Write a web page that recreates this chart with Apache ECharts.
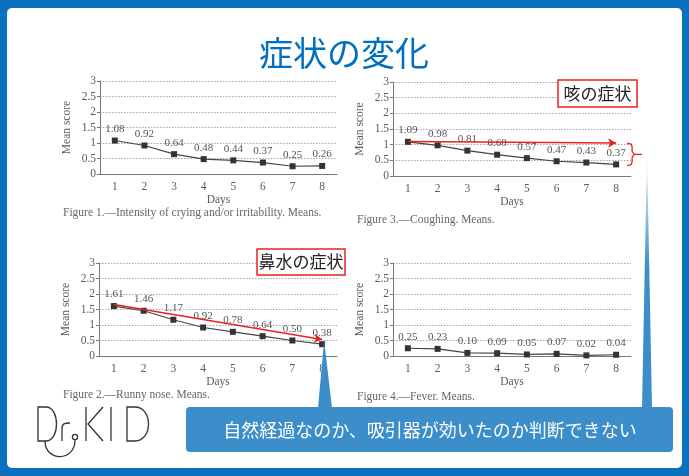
<!DOCTYPE html>
<html><head><meta charset="utf-8">
<script src="https://cdn.jsdelivr.net/npm/echarts@6/dist/echarts.min.js"></script>
<style>html,body{margin:0;padding:0;background:#0a71bf;} #c{width:689px;height:476px;}</style>
</head><body><div id="c"></div>
<script>
const days = ['1','2','3','4','5','6','7','8'];
const cryingScores   = [1.08, 0.92, 0.64, 0.48, 0.44, 0.37, 0.25, 0.26];
const coughingScores = [1.09, 0.98, 0.81, 0.68, 0.57, 0.47, 0.43, 0.37];
const runnyScores    = [1.61, 1.46, 1.17, 0.92, 0.78, 0.64, 0.50, 0.38];
const feverScores    = [0.25, 0.23, 0.10, 0.09, 0.05, 0.07, 0.02, 0.04];
const captions = [
  'Figure 1.\u2014Intensity of crying and/or irritability. Means.',
  'Figure 3.\u2014Coughing. Means.',
  'Figure 2.\u2014Runny nose. Means.',
  'Figure 4.\u2014Fever. Means.'
];
const titleText = '症状の変化';
const coughTag = '咳の症状';
const noseTag = '鼻水の症状';
const calloutText = '自然経過なのか、吸引器が効いたのか判断できない';
// red trend arrows [start value at day 1, end value at day 8]
const coughArrow = [1.10, 1.05];
const noseArrow = [1.66, 0.53];
const coughBrace = [1.05, 0.33];

const SERIF = '"Liberation Serif", "DejaVu Serif", serif';
const JP = '"Noto Sans CJK JP", sans-serif';
const GRAY = '#5a5a5a';

const grids = [
  {left: 100, top: 81, width: 237, height: 93},
  {left: 393, top: 82, width: 238, height: 94},
  {left: 99, top: 263, width: 238, height: 93},
  {left: 393, top: 263, width: 238, height: 93}
];
const seriesData = [cryingScores, coughingScores, runnyScores, feverScores];

const xAxes = grids.map((g, i) => ({
  type: 'category', gridIndex: i, data: days, boundaryGap: true,
  name: 'Days', nameLocation: 'middle', nameGap: 19,
  nameTextStyle: {fontFamily: SERIF, fontSize: 11.5, color: GRAY},
  axisLine: {lineStyle: {color: '#777', width: 1}},
  axisTick: {inside: true, length: 3, lineStyle: {color: '#777'}},
  axisLabel: {fontFamily: SERIF, fontSize: 11.5, color: GRAY, margin: 7}
}));
const yAxes = grids.map((g, i) => ({
  type: 'value', gridIndex: i, min: 0, max: 3, interval: 0.5,
  name: 'Mean score', nameLocation: 'middle', nameGap: 27, nameRotate: 90,
  nameTextStyle: {fontFamily: SERIF, fontSize: 11.5, color: GRAY},
  axisLine: {show: true, lineStyle: {color: '#777', width: 1}},
  axisTick: {show: true, length: 3, lineStyle: {color: '#777'}},
  axisLabel: {fontFamily: SERIF, fontSize: 11.5, color: GRAY, margin: 4},
  splitLine: {show: true, lineStyle: {color: '#a5a5a5', type: [1.5, 1.5], width: 1}}
}));
const arrowLine = (a) => ({
  silent: true, symbol: ['none', 'arrow'], symbolSize: [7, 8],
  lineStyle: {color: '#e8231e', width: 1.5, type: 'solid'},
  label: {show: false},
  data: [[{coord: [days[0], a[0]]}, {coord: [days[days.length - 1], a[1]]}]]
});
const series = seriesData.map((d, i) => {
  const s = {
    type: 'line', xAxisIndex: i, yAxisIndex: i, data: d,
    symbol: 'rect', symbolSize: 6,
    itemStyle: {color: '#333'},
    lineStyle: {color: '#444', width: 1.2},
    label: {show: true, position: 'top', distance: 3, fontFamily: SERIF, fontSize: 11, color: '#555',
      formatter: p => p.value.toFixed(2)}
  };
  if (i === 1) s.markLine = arrowLine(coughArrow);
  if (i === 2) s.markLine = arrowLine(noseArrow);
  return s;
});

const chart = echarts.init(document.getElementById('c'), null, {renderer: 'canvas'});
chart.setOption({
  animation: false,
  backgroundColor: '#0a71bf',
  grid: grids,
  xAxis: xAxes,
  yAxis: yAxes,
  series: series
});

const bTop = chart.convertToPixel({gridIndex: 1}, [days[7], coughBrace[0]]);
const bBot = chart.convertToPixel({gridIndex: 1}, [days[7], coughBrace[1]]);
const noseEnd = chart.convertToPixel({gridIndex: 2}, [days[7], noseArrow[1]]);
const bx = bTop[0] + 16;
const bMid = (bTop[1] + bBot[1]) / 2;
const RED = '#e8231e';
const BLUE = '#3b8ec9';
const ink = {stroke: '#333', lineWidth: 1.3, fill: null};

const capPos = [[63, 213], [357, 220], [63, 395], [357, 397]];
const graphics = [
  {type: 'rect', z: -100, shape: {x: 7, y: 8, width: 675, height: 460, r: 5}, style: {fill: '#fff'}},
  {type: 'text', z: 50, x: 344, y: 53, style: {text: titleText, font: '34px ' + JP, fill: '#0070c0', textAlign: 'center', textVerticalAlign: 'middle'}},
];
captions.forEach((c, i) => graphics.push({type: 'text', z: 50, x: capPos[i][0], y: capPos[i][1],
  style: {text: c, font: '11.5px ' + SERIF, fill: '#666', textAlign: 'left', textVerticalAlign: 'middle'}}));
// tag boxes
graphics.push(
  {type: 'rect', z: 50, shape: {x: 558, y: 80, width: 79, height: 27}, style: {fill: '#fff', stroke: RED, lineWidth: 1.5}},
  {type: 'text', z: 51, x: 597.5, y: 94, style: {text: coughTag, font: '17px ' + JP, fill: '#222', textAlign: 'center', textVerticalAlign: 'middle'}},
  {type: 'rect', z: 50, shape: {x: 257, y: 249, width: 88, height: 26}, style: {fill: '#fff', stroke: RED, lineWidth: 1.5}},
  {type: 'text', z: 51, x: 301, y: 262, style: {text: noseTag, font: '17px ' + JP, fill: '#222', textAlign: 'center', textVerticalAlign: 'middle'}}
);
// brace
graphics.push(
  {type: 'polyline', z: 50, shape: {points: [[bx - 5, bTop[1]], [bx - 1, bTop[1] + 1], [bx, bTop[1] + 4], [bx, bMid - 3], [bx + 2, bMid], [bx, bMid + 3], [bx, bBot[1] - 4], [bx - 1, bBot[1] - 1], [bx - 5, bBot[1]]]}, style: {stroke: RED, lineWidth: 1.3, fill: null}},
  {type: 'line', z: 50, shape: {x1: bx + 2, y1: bMid, x2: bx + 10, y2: bMid}, style: {stroke: RED, lineWidth: 1.3}}
);
// pointers + callout
graphics.push(
  {type: 'polygon', z: 60, shape: {points: [[318, 408], [332, 408], [noseEnd[0] + 2, noseEnd[1] + 1]]}, style: {fill: BLUE}},
  {type: 'polygon', z: 60, shape: {points: [[642, 408], [652, 408], [647, 152]]},
    style: {fill: new echarts.graphic.LinearGradient(0, 0, 0, 1, [{offset: 0, color: '#ffffff'}, {offset: 0.45, color: BLUE}, {offset: 1, color: BLUE}])}},
  {type: 'rect', z: 61, shape: {x: 186, y: 407, width: 487, height: 45, r: 4}, style: {fill: BLUE}},
  {type: 'text', z: 62, x: 430, y: 430, style: {text: calloutText, font: '18px ' + JP, fill: '#fff', textAlign: 'center', textVerticalAlign: 'middle'}}
);
// logo Dr.KID
graphics.push(
  {type: 'polyline', z: 50, shape: {points: [[46, 407], [38, 407], [38, 441], [46, 441]]}, style: ink},
  {type: 'bezierCurve', z: 50, shape: {x1: 46, y1: 407, cpx1: 60, cpy1: 407, cpx2: 60, cpy2: 441, x2: 46, y2: 441}, style: ink},
  {type: 'bezierCurve', z: 50, shape: {x1: 45, y1: 441, cpx1: 45, cpy1: 462, cpx2: 75, cpy2: 462, x2: 75, y2: 440}, style: ink},
  {type: 'circle', z: 50, shape: {cx: 75, cy: 437, r: 2.6}, style: ink},
  {type: 'line', z: 50, shape: {x1: 62, y1: 441, x2: 62, y2: 428}, style: ink},
  {type: 'bezierCurve', z: 50, shape: {x1: 62, y1: 428, cpx1: 62, cpy1: 423, cpx2: 66, cpy2: 423, x2: 70, y2: 423}, style: ink},
  {type: 'line', z: 50, shape: {x1: 86, y1: 407, x2: 86, y2: 441}, style: ink},
  {type: 'polyline', z: 50, shape: {points: [[103, 407], [88, 424], [103, 441]]}, style: ink},
  {type: 'line', z: 50, shape: {x1: 111, y1: 407, x2: 111, y2: 441}, style: ink},
  {type: 'polyline', z: 50, shape: {points: [[135, 407], [127, 407], [127, 441], [135, 441]]}, style: ink},
  {type: 'bezierCurve', z: 50, shape: {x1: 135, y1: 407, cpx1: 153, cpy1: 407, cpx2: 153, cpy2: 441, x2: 135, y2: 441}, style: ink}
);
chart.setOption({graphic: graphics});
</script></body></html>
